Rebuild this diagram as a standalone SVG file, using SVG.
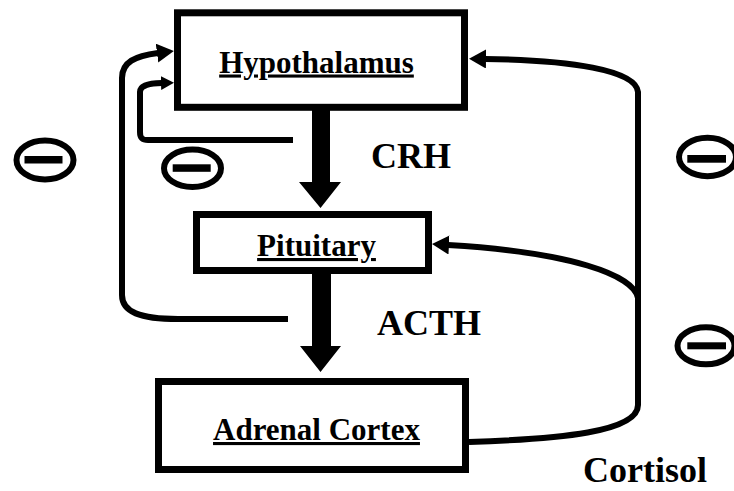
<svg xmlns="http://www.w3.org/2000/svg" width="734" height="491" viewBox="0 0 734 491">
  <style>
    .box { fill: #fff; stroke: #000; stroke-width: 7; }
    .lbl { font-family: "Liberation Serif", "Times New Roman", serif; font-weight: bold; fill: #000; }
    .node { font-size: 31px; text-anchor: middle; text-decoration: underline; text-decoration-thickness: 4px; text-underline-offset: 4px; }
    .hormone { font-size: 36px; }
    .conn { fill: none; stroke: #000; stroke-width: 6; }
    .thick { fill: #000; stroke: none; }
    .minus ellipse { fill: none; stroke: #000; stroke-width: 6; }
    .minus rect { fill: #000; }
  </style>
  <defs>
    <marker id="headL" markerUnits="userSpaceOnUse" markerWidth="18" markerHeight="20" refX="1" refY="9.5" orient="auto">
      <path d="M0,0 L17,9.5 L0,19 z" fill="#000"/>
    </marker>
    <marker id="headS" markerUnits="userSpaceOnUse" markerWidth="14" markerHeight="15" refX="1" refY="7" orient="auto">
      <path d="M0,0 L13,7 L0,14 z" fill="#000"/>
    </marker>
  </defs>
  <rect width="734" height="491" fill="#fff"/>

  <g id="connectors">
    <!-- CRH thick arrow -->
    <path class="thick" d="M312,110 L330,110 L330,182 L341,182 L320.5,208 L299,182 L312,182 z"/>
    <!-- ACTH thick arrow -->
    <path class="thick" d="M312,273 L331,273 L331,346 L341,346 L320.5,372 L300,346 L312,346 z"/>
    <!-- Cortisol feedback to hypothalamus -->
    <path class="conn" d="M469,442 C560,439 638,432 638,405 L638,92 C636,70 570,60 485,59" marker-end="url(#headL)"/>
    <!-- Cortisol feedback to pituitary -->
    <path class="conn" d="M638,298 C634,275 570,252 448,245" marker-end="url(#headL)"/>
    <!-- long loop (ACTH) to hypothalamus -->
    <path class="conn" d="M288,319 L178,319 C140,319 122,312 122,295 L122,78 C122,62 135,56 158,53" marker-end="url(#headL)"/>
    <!-- short loop (CRH) to hypothalamus -->
    <path class="conn" d="M293,140 L148,140 C142,140 140,138 140,132 L140,92 C140,86 146,83.5 162,83" marker-end="url(#headS)"/>
  </g>

  <g id="hypothalamus">
    <rect class="box" x="177.5" y="12.8" width="287" height="94.5"/>
    <text class="lbl node" x="316.5" y="72.5">Hypothalamus</text>
  </g>
  <g id="pituitary">
    <rect class="box" x="196.5" y="214.5" width="232" height="56"/>
    <text class="lbl node" x="316.5" y="256">Pituitary</text>
  </g>
  <g id="adrenal-cortex">
    <rect class="box" x="158.5" y="381.5" width="307" height="88"/>
    <text class="lbl node" x="316.5" y="440">Adrenal Cortex</text>
  </g>

  <g id="labels">
    <text class="lbl hormone" x="371" y="168">CRH</text>
    <text class="lbl hormone" x="377" y="335">ACTH</text>
    <text class="lbl hormone" x="583" y="482">Cortisol</text>
  </g>

  <g id="minus-signs">
    <g class="minus" id="minus-1">
      <ellipse cx="45" cy="160" rx="28.5" ry="19.5"/>
      <rect x="24.5" y="156" width="38" height="7.5"/>
    </g>
    <g class="minus" id="minus-2">
      <ellipse cx="192.5" cy="168.3" rx="28.5" ry="18.7"/>
      <rect x="172.7" y="164.3" width="38" height="7.5"/>
    </g>
    <g class="minus" id="minus-3">
      <ellipse cx="707.5" cy="157" rx="28.5" ry="19.2"/>
      <rect x="687.3" y="155" width="38.7" height="7.7"/>
    </g>
    <g class="minus" id="minus-4">
      <ellipse cx="706" cy="345.8" rx="28.5" ry="18.5"/>
      <rect x="687.3" y="342.3" width="38.7" height="7"/>
    </g>
  </g>
</svg>
